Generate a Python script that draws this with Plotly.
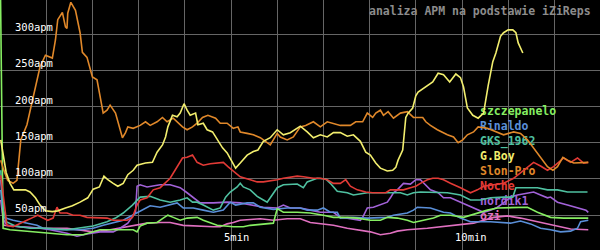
import plotly.graph_objects as go

# ---- data (time in seconds, APM values) ----
names = ["szczepanelo", "Rinaldo", "GKS_1962", "G.Boy", "Slon-Pro", "Noche", "nordik1", "ozi"]
colors = ["#86ee62", "#5a8fd8", "#4fc0a0", "#f2ee6e", "#e0882a", "#e23a36", "#a262d8", "#e070c0"]

green_t = [0,4,13,43,65,87,108,130,152,173,178,182,191,204,212,218,225,234,243,256,264,273,282,303,316,325,342,355,360,368,386,403,420,433,451,464,481,494,503,516,529,537,550,563,572,585,602,620,633,646,672,685,698,715,732,764]
green_v = [420,32,30,27,25,23,23,30,30,30,27,35,39,40,46,50,47,43,46,47,43,40,36,34,34,36,38,39,59,54,54,53,50,47,47,46,43,43,47,46,43,40,43,46,50,50,47,53,57,60,60,61,54,47,46,46]

blue_t = [1,4,17,35,48,56,74,104,121,134,147,160,172,182,195,208,221,230,238,251,264,277,290,295,299,306,321,329,338,355,373,390,399,412,420,429,438,442,459,477,494,503,511,529,537,542,559,576,585,598,611,637,663,676,689,702,715,728,741,750,754,764]
blue_v = [85,47,43,39,36,32,30,30,32,36,39,43,50,56,63,61,64,67,60,60,57,54,57,64,68,64,67,67,61,58,60,60,57,57,60,54,54,46,47,46,46,47,50,53,57,61,60,54,53,46,41,41,39,42,38,32,30,27,28,32,41,43]

teal_t = [1,4,8,20,39,61,87,104,121,139,150,160,172,182,195,208,221,234,243,250,256,264,277,286,293,299,308,312,316,325,334,342,347,351,360,368,386,394,399,412,423,429,438,451,459,477,494,507,520,529,537,546,555,563,572,581,598,611,624,637,654,666,670,685,698,711,724,737,750,763]
teal_v = [112,61,41,35,32,32,30,32,35,41,46,53,64,75,76,71,68,71,74,68,68,64,57,60,75,82,89,94,89,85,76,71,68,74,88,92,93,88,96,101,100,94,83,81,78,81,81,82,81,78,81,82,82,81,82,81,78,71,71,74,75,75,88,88,88,85,85,82,82,82]

yellow_t = [1,4,8,13,18,26,33,39,46,52,59,68,75,85,94,104,114,121,129,135,140,147,153,160,166,173,178,189,198,204,211,215,218,224,230,234,239,243,247,254,257,264,269,276,282,289,295,302,306,312,321,329,335,342,351,360,368,377,390,399,407,416,425,433,442,451,459,468,475,481,488,494,503,510,514,517,523,527,530,536,540,543,553,562,569,576,584,592,598,602,607,614,621,628,634,640,644,650,654,660,666,670,673,679]
yellow_v = [154,133,109,94,85,85,85,82,74,64,56,55,56,60,63,68,74,86,89,104,99,94,90,94,106,112,119,122,123,137,147,158,172,188,186,191,204,195,188,191,175,177,168,165,154,143,136,122,115,122,133,138,140,152,157,168,161,164,173,165,157,161,158,164,164,159,161,152,137,133,122,115,111,112,116,126,140,185,191,198,215,220,227,234,246,244,234,245,240,227,198,188,184,191,229,262,274,297,302,306,306,302,288,274]

orange_t = [1,4,10,17,22,25,27,35,42,47,52,59,68,72,75,81,85,87,88,92,98,104,107,113,120,126,130,134,139,143,150,153,159,163,166,173,182,189,195,204,211,217,225,237,243,250,256,263,270,280,286,295,303,309,312,321,329,338,347,351,360,364,373,381,390,397,407,416,425,433,442,455,462,471,477,484,488,494,498,504,511,520,529,537,549,553,559,568,581,589,595,601,607,615,621,633,646,654,667,676,685,693,702,711,718,724,731,737,745,758,764]
orange_v = [126,115,98,94,98,133,154,175,209,230,255,271,267,292,320,330,310,308,329,344,333,302,275,268,241,237,213,191,195,202,191,179,157,164,172,170,174,179,174,179,185,179,184,172,168,172,177,185,188,184,177,177,170,172,165,163,161,157,150,147,163,158,154,158,172,174,179,172,179,177,174,174,179,179,191,185,191,195,188,193,184,191,193,185,185,179,174,168,161,158,150,154,161,165,172,170,165,161,165,163,154,143,130,117,112,117,130,126,122,122,123]

red_t = [1,5,9,17,26,35,43,49,56,62,69,74,78,87,95,104,113,121,130,139,147,156,165,172,178,182,191,199,208,221,230,237,243,250,256,264,273,282,290,296,303,312,325,334,342,351,360,368,377,386,394,407,416,425,433,442,449,455,464,475,484,501,507,524,533,540,546,555,562,569,576,585,598,611,620,628,641,654,667,676,693,702,711,719,732,741,750,758,764]
red_v = [105,71,36,34,39,43,47,50,46,43,46,61,53,53,50,50,47,47,47,46,43,43,43,47,64,71,74,85,88,101,117,129,130,133,123,119,121,122,123,117,111,103,99,96,96,97,99,101,103,104,103,101,101,99,94,94,99,90,85,82,81,81,85,85,88,90,94,99,101,101,99,94,88,81,85,90,92,94,101,109,123,118,112,117,129,123,129,122,123]

purple_t = [1,5,9,26,52,65,87,100,113,130,147,156,166,176,178,182,191,208,221,234,243,251,260,277,295,312,325,342,360,368,377,390,403,416,433,442,451,468,472,477,485,494,503,507,511,516,524,533,540,546,553,559,569,576,585,598,611,620,628,637,646,654,663,672,685,693,702,711,715,724,737,750,761,764]
purple_v = [99,43,36,34,32,30,25,21,24,27,27,32,39,54,90,92,89,92,92,88,81,74,67,67,68,67,64,61,60,64,60,60,57,54,54,47,46,43,49,60,61,65,68,74,81,85,94,93,99,99,92,85,81,74,74,68,61,57,54,57,61,67,75,78,81,82,78,74,75,68,64,60,57,54]

pink_t = [1,5,26,56,87,104,121,143,165,173,191,208,221,238,251,277,286,295,303,312,338,355,373,390,403,420,433,451,464,481,494,507,516,529,555,572,598,615,641,659,676,702,724,741,764]
pink_v = [71,36,34,32,32,30,27,30,34,36,39,40,40,36,35,34,34,38,40,43,45,43,45,45,40,38,36,32,30,27,23,25,28,30,32,34,38,39,47,49,46,40,34,31,30]

y_ticks = [50, 100, 150, 200, 250, 300]
x_ticks = [5, 10]
title_text = "analiza APM na podstawie iZiReps"

series_t = [green_t, blue_t, teal_t, yellow_t, orange_t, red_t, purple_t, pink_t]
series_v = [green_v, blue_v, teal_v, yellow_v, orange_v, red_v, purple_v, pink_v]

# ---- layout helpers ----
W, H = 600, 250
PX_PER_MIN = 46.2
Y_TOP, Y_BOT = 347.2, 1.93
x_max = W / PX_PER_MIN

def px_to_min(px):
    return px / PX_PER_MIN

def py_to_apm(py):
    return Y_TOP - py * (Y_TOP - Y_BOT) / H

fig = go.Figure()

# legend-like labels drawn first so lines pass over them
lab_x = [px_to_min(480)] * len(names)
lab_y = [py_to_apm(112 + 15 * i) for i in range(len(names))]
fig.add_trace(go.Scatter(
    x=lab_x, y=lab_y, mode="text", text=names, textposition="middle right",
    textfont=dict(family="DejaVu Sans Mono", size=11.5, color=colors, weight="bold"),
    showlegend=False, hoverinfo="skip", cliponaxis=False))

draw_order = [7, 6, 1, 0, 2, 5, 4, 3]
for i in draw_order:
    fig.add_trace(go.Scatter(
        x=[t / 60 for t in series_t[i]], y=series_v[i], mode="lines",
        line=dict(color=colors[i], width=1.6), name=names[i], showlegend=False))

annotations = []
for v in y_ticks:
    annotations.append(dict(x=13 / W, xref="paper", y=v, yref="y", text=f"{v}apm",
                            xanchor="left", yanchor="bottom", showarrow=False, yshift=-1,
                            font=dict(family="DejaVu Sans Mono", size=10.5, color="#ffffff")))
for m in x_ticks:
    annotations.append(dict(x=m, xref="x", xshift=-9, y=1 - 237 / H, yref="paper", text=f"{m}min",
                            xanchor="left", yanchor="middle", showarrow=False,
                            font=dict(family="DejaVu Sans Mono", size=10.5, color="#ffffff")))
annotations.append(dict(x=593 / W, xref="paper", y=1 - 11 / H, yref="paper", text=title_text,
                        xanchor="right", yanchor="middle", showarrow=False,
                        font=dict(family="DejaVu Sans Mono", size=11.5, color="#8c8c8c", weight="bold")))

fig.update_layout(
    width=W, height=H, margin=dict(l=0, r=0, t=0, b=0),
    paper_bgcolor="#000000", plot_bgcolor="#000000",
    xaxis=dict(range=[0, x_max], dtick=1, tick0=0, showgrid=True, gridcolor="#666666",
               gridwidth=1, zeroline=False, showticklabels=False, ticks="", showline=False),
    yaxis=dict(range=[Y_BOT, Y_TOP], dtick=50, tick0=0, showgrid=True, gridcolor="#666666",
               gridwidth=1, zeroline=False, showticklabels=False, ticks="", showline=False),
    annotations=annotations, showlegend=False,
)

fig.write_html("out.html")
